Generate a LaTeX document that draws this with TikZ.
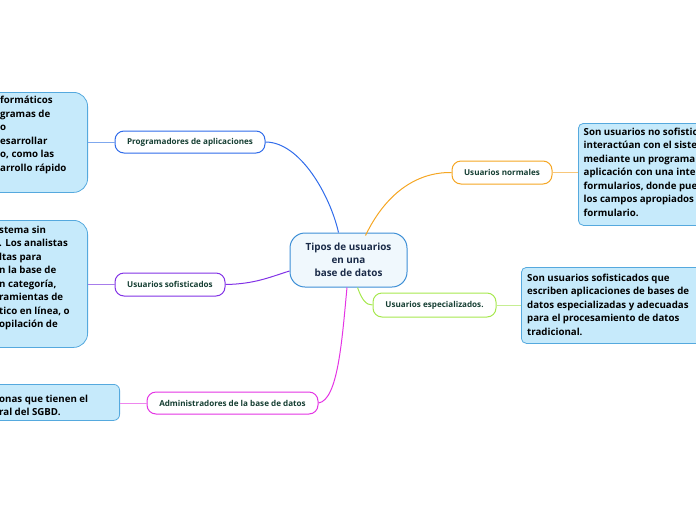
\documentclass[tikz,border=0pt]{standalone}
\usepackage{fontspec}
\setmainfont{Open Sans}
\usetikzlibrary{calc}
\definecolor{cblue}{HTML}{2F6BEA}
\definecolor{cpurple}{HTML}{8232E6}
\definecolor{cmagenta}{HTML}{E434E4}
\definecolor{corange}{HTML}{F5A623}
\definecolor{cgreen}{HTML}{A6E84E}
\definecolor{lblue}{HTML}{7FA8EE}
\definecolor{lpurple}{HTML}{A77CEB}
\definecolor{lmagenta}{HTML}{EE86EE}
\definecolor{lorange}{HTML}{F8C77A}
\definecolor{lgreen}{HTML}{C6EE92}
\definecolor{brtext}{HTML}{163F33}
\definecolor{ctrtext}{HTML}{1B2B48}
\definecolor{ctrborder}{HTML}{3D8FD6}
\definecolor{ctrfill}{HTML}{F0F8FD}
\definecolor{leaffill}{HTML}{C6EAFB}
\definecolor{leafborder}{HTML}{55A9DE}
\begin{document}
\begin{tikzpicture}[x=1pt,y=-1pt,
  branch/.style={draw, line width=1pt, rounded corners=9pt, fill=white,
    font=\fontsize{8.1}{9}\selectfont\bfseries, text=brtext, inner sep=0pt},
  leafbox/.style={draw=leafborder, fill=leaffill, line width=0.8pt, inner sep=0pt},
  leaftext/.style={font=\fontsize{9.7}{13.5}\selectfont\bfseries, text=black,
    align=left, inner sep=0pt, anchor=north west},
  conn/.style={line width=1pt},
  leafconn/.style={line width=1pt}
]
\useasboundingbox (0,0) rectangle (696,520);
\clip (0,0) rectangle (696,520);

% central node
\node[draw=ctrborder, fill=ctrfill, line width=1pt, rounded corners=15pt,
  minimum width=117pt, minimum height=54pt, inner sep=0pt,
  font=\fontsize{9.9}{13}\selectfont\bfseries, text=ctrtext, align=center]
  (ctr) at (348.5,260) {Tipos de usuarios\\en una\\base de datos};

% branch nodes
\node[branch, draw=cblue, minimum width=150pt, minimum height=22pt] (prog) at (190,142) {Programadores de aplicaciones};
\node[branch, draw=cpurple, minimum width=110pt, minimum height=23pt] (sof) at (170,284.5) {Usuarios sofisticados};
\node[branch, draw=cmagenta, minimum width=171pt, minimum height=22pt] (adm) at (232.5,403) {Administradores de la base de datos};
\node[branch, draw=corange, minimum width=100pt, minimum height=23pt] (nor) at (502,172.5) {Usuarios normales};
\node[branch, draw=cgreen, minimum width=123pt, minimum height=24pt] (esp) at (434.5,305) {Usuarios especializados.};

% leaf boxes
\node[leafbox, rounded corners=14pt, minimum width=140pt, minimum height=100pt, anchor=north east] (l1) at (88,92) {};
\node[leaftext] (l1t) at (0,96) {formáticos\\gramas de\\o\\esarrollar\\o, como las\\arrollo rápido};

\node[leafbox, rounded corners=14pt, minimum width=140pt, minimum height=127pt, anchor=north east] (l2) at (88,220) {};
\node[leaftext] (l2t) at (-1,225.5) {stema sin\\. Los analistas\\ltas para\\n la base de\\n categoría,\\ramientas de\\tico en línea, o\\opilación de};

\node[leafbox, rounded corners=6pt, minimum width=160pt, minimum height=36pt, anchor=north east] (l3) at (120,384) {};
\node[leaftext] (l3t) at (-1,394.5) {onas que tienen el\\ral del SGBD.};

\node[leafbox, rounded corners=5pt, minimum width=160pt, minimum height=102pt, anchor=north west] (r1) at (578,123) {};
\node[leaftext] (r1t) at (583.5,127.5) {Son usuarios no sofistic\\interactúan con el siste\\mediante un programa\\aplicación con una inte\\formularios, donde pue\\los campos apropiados\\formulario.};

\node[leafbox, rounded corners=5pt, minimum width=200pt, minimum height=76pt, anchor=north west] (r2) at (521,267) {};
\node[leaftext] (r2t) at (527,273.5) {Son usuarios sofisticados que\\escriben aplicaciones de bases de\\datos especializadas y adecuadas\\para el procesamiento de datos\\tradicional.};

% main connectors
\draw[conn, cblue] (prog.east) .. controls (300,142) and (330,195) .. ($(ctr.north)+(-10,0)$);
\draw[conn, cpurple] (sof.east) .. controls (255,284) and (270,277) .. ($(ctr.west)+(0,11)$);
\draw[conn, cmagenta] (adm.east) .. controls (338,400) and (342,340) .. ($(ctr.south)+(-1.5,0)$);
\draw[conn, corange] (nor.west) .. controls (415,172) and (385,195) .. ($(ctr.north)+(17,3)$);
\draw[conn, cgreen] ($(ctr.south)+(9,0)$) .. controls (362,300) and (366,305) .. (esp.west);

% leaf connectors
\draw[leafconn, lblue] (prog.west) -- (l1.east |- prog.west);
\draw[leafconn, lpurple] (sof.west) -- (l2.east |- sof.west);
\draw[leafconn, lmagenta] (adm.west) -- (l3.east |- adm.west);
\draw[leafconn, lorange] (nor.east) -- (r1.west |- nor.east);
\draw[leafconn, lgreen] (esp.east) -- (r2.west |- esp.east);
\end{tikzpicture}
\end{document}
